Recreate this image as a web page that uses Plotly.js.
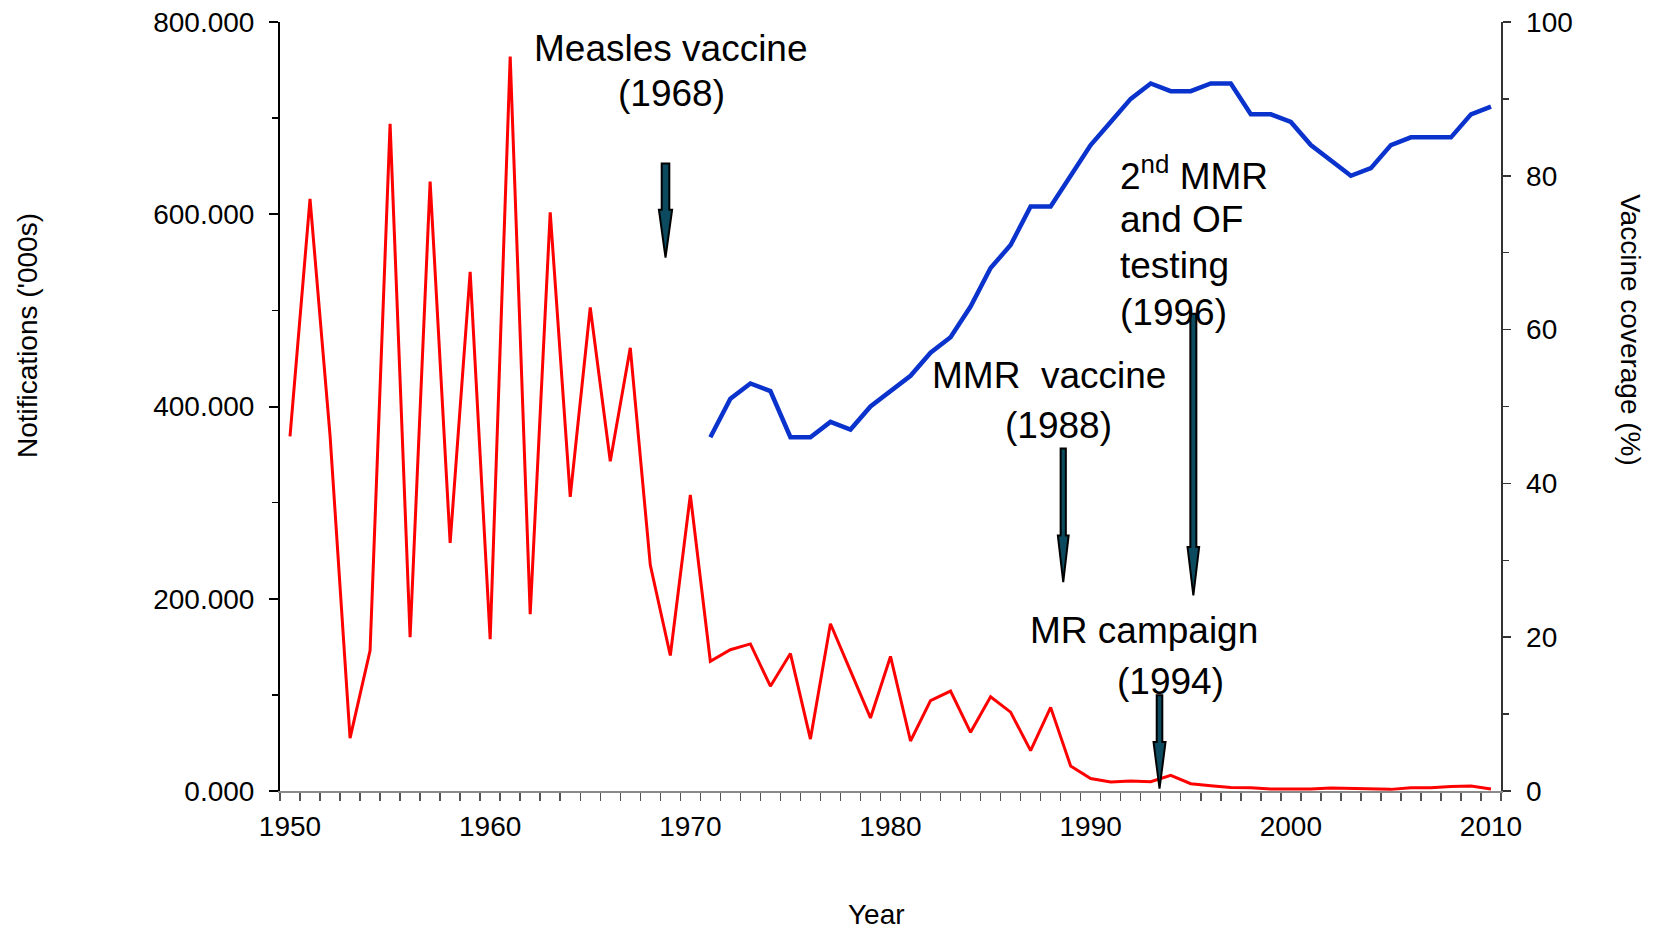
<!DOCTYPE html>
<html>
<head>
<meta charset="utf-8">
<script src="https://cdn.plot.ly/plotly-3.0.1.min.js"></script>
<style>html,body{margin:0;padding:0;background:#fff;}#chart{width:1655px;height:929px;}</style>
</head>
<body>
<div id="chart"></div>
<script>
// ---- data ----
const years = [1950,1951,1952,1953,1954,1955,1956,1957,1958,1959,
               1960,1961,1962,1963,1964,1965,1966,1967,1968,1969,
               1970,1971,1972,1973,1974,1975,1976,1977,1978,1979,
               1980,1981,1982,1983,1984,1985,1986,1987,1988,1989,
               1990,1991,1992,1993,1994,1995,1996,1997,1998,1999,
               2000,2001,2002,2003,2004,2005,2006,2007,2008,2009,2010];
const notifications = [369,616,370,55,146,694,160,634,258,540,
                       158,764,184,602,306,503,343,461,235,141,
                       308,135,147,153,109,143,54,174,125,76,
                       140,52,94,104,61,98,82,42,87,26,
                       13,9.3,10.3,9.7,16.2,7.6,5.5,3.7,3.4,2,
                       2,2,3,2.5,2,1.7,3.4,3.4,4.8,5.1,2];
const coverageYears = [1971,1972,1973,1974,1975,1976,1977,1978,1979,
                       1980,1981,1982,1983,1984,1985,1986,1987,1988,1989,
                       1990,1991,1992,1993,1994,1995,1996,1997,1998,1999,
                       2000,2001,2002,2003,2004,2005,2006,2007,2008,2009,2010];
const coverage = [46,51,53,52,46,46,48,47,50,
                  52,54,57,59,63,68,71,76,76,80,
                  84,87,90,92,91,91,92,92,88,88,
                  87,84,82,80,81,84,85,85,85,88,89];
const xTickVals = [1950,1960,1970,1980,1990,2000,2010];
const leftTicks = [0,200,400,600,800];
const rightTicks = [0,20,40,60,80,100];

// ---- layout helpers (pixel -> paper) ----
const L = 280, R = 1501, T = 22, B = 791;
const px = x => (x - L) / (R - L);
const py = y => (B - y) / (B - T);
const FONT = '"Liberation Sans", Arial, sans-serif';

// block arrow path in data coords (x: year, y: left axis)
function arrowPath(cx, yTop, yHead, yTip, sh, hh) {
  return `M ${cx-sh} ${yTop} L ${cx+sh} ${yTop} L ${cx+sh} ${yHead} L ${cx+hh} ${yHead} ` +
         `L ${cx} ${yTip} L ${cx-hh} ${yHead} L ${cx-sh} ${yHead} Z`;
}
const arrowStyle = {fillcolor:'#0b4a5f', line:{color:'#000', width:2}, xref:'x', yref:'y', layer:'above'};

const shapes = [
  Object.assign({type:'path', path: arrowPath(1968.76, 652.7, 604.8, 554.9, 0.19, 0.33)}, arrowStyle),
  Object.assign({type:'path', path: arrowPath(1988.63, 356.2, 265.9, 217.4, 0.13, 0.27)}, arrowStyle),
  Object.assign({type:'path', path: arrowPath(1995.13, 496.6, 253.8, 203.5, 0.15, 0.29)}, arrowStyle),
  Object.assign({type:'path', path: arrowPath(1993.44, 99.5, 50.9, 2.4, 0.14, 0.30)}, arrowStyle)
];

const big = {family: FONT, size: 37, color: '#000'};
function ann(text, x, y, xanchor, extra) {
  return Object.assign({text, xref:'paper', yref:'paper', x: px(x), y: py(y),
    xanchor: xanchor || 'center', yanchor:'middle', showarrow:false, font: big}, extra || {});
}
const annotations = [
  ann('Measles vaccine', 671, 49),
  ann('(1968)', 671, 94),
  ann('MMR  vaccine', 1049, 375),
  ann('(1988)', 1058, 426),
  ann('2<sup>nd</sup> MMR', 1118, 173, 'left'),
  ann('and OF', 1118, 220, 'left'),
  ann('testing', 1118, 265, 'left'),
  ann('(1996)', 1118, 312, 'left'),
  ann('MR campaign', 1143.6, 630),
  ann('(1994)', 1170, 681),
  ann("Notifications ('000s)", 28, 336, 'center', {textangle:-90, font:{family:FONT, size:28, color:'#000'}}),
  ann('Vaccine coverage (%)', 1631, 330, 'center', {textangle:90, font:{family:FONT, size:28, color:'#000'}}),
  ann('Year', 876, 915, 'center', {font:{family:FONT, size:28, color:'#000'}})
];

const traces = [
  {x: years, y: notifications, type:'scatter', mode:'lines', name:'Notifications',
   line:{color:'#ff0000', width:3}, xaxis:'x', yaxis:'y', hoverinfo:'x+y'},
  {x: coverageYears, y: coverage, type:'scatter', mode:'lines', name:'Vaccine coverage',
   line:{color:'#0a32cc', width:4.5}, xaxis:'x', yaxis:'y2', hoverinfo:'x+y'}
];

const tickFont = {family: FONT, size: 28, color:'#000'};
const layout = {
  width:1655, height:929,
  margin:{l:L, r:1655-R, t:T, b:929-B, pad:0},
  paper_bgcolor:'#fff', plot_bgcolor:'#fff',
  showlegend:false,
  font:{family:FONT},
  xaxis:{range:[1949.5, 2010.5], tickmode:'array', tickvals:xTickVals, ticktext:xTickVals.map(String),
         ticks:'', showgrid:false, zeroline:false, showline:true, linecolor:'#8a8a8a', linewidth:2,
         tickfont:tickFont, ticklabelstandoff:9,
         minor:{tickmode:'linear', tick0:1949.5, dtick:1, ticks:'outside', ticklen:8, tickwidth:1.5, tickcolor:'#555', showgrid:false}},
  yaxis:{range:[0,800], tickmode:'array', tickvals:leftTicks, tickformat:'.3f',
         ticks:'outside', ticklen:9, tickwidth:2, tickcolor:'#000',
         showgrid:false, zeroline:false, showline:true, linecolor:'#000', linewidth:2,
         tickfont:tickFont, ticklabelstandoff:9,
         minor:{tickmode:'linear', tick0:0, dtick:100, ticks:'outside', ticklen:6, tickwidth:1.5, tickcolor:'#000', showgrid:false}},
  yaxis2:{range:[0,100], overlaying:'y', side:'right', tickmode:'array', tickvals:rightTicks,
          ticks:'outside', ticklen:8, tickwidth:1.5, tickcolor:'#333',
          showgrid:false, zeroline:false, showline:true, linecolor:'#333', linewidth:1.5,
          tickfont:tickFont, ticklabelstandoff:10,
          minor:{tickmode:'linear', tick0:0, dtick:10, ticks:'outside', ticklen:6, tickwidth:1.5, tickcolor:'#333', showgrid:false}},
  shapes, annotations
};

Plotly.newPlot('chart', traces, layout, {displayModeBar:false, staticPlot:true});
</script>
</body>
</html>
